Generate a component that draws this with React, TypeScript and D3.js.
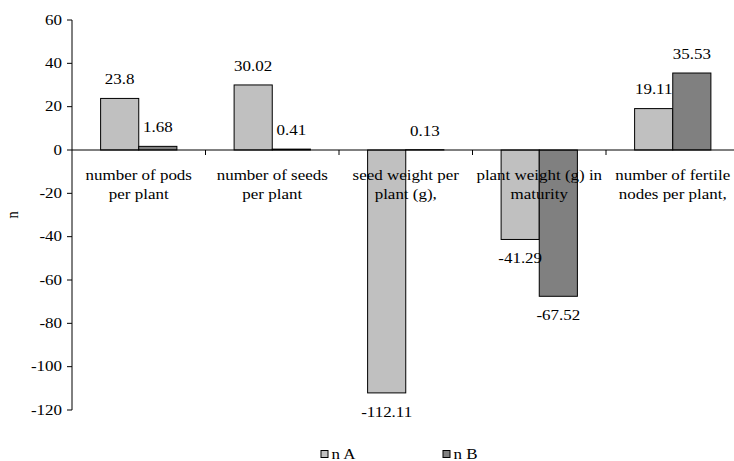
import React from "react";
import * as d3 from "d3";

const categories = [
  ["number of pods", "per plant"],
  ["number of seeds", "per plant"],
  ["seed weight per", "plant (g),"],
  ["plant weight (g) in", "maturity"],
  ["number of fertile", "nodes per plant,"],
];
const seriesNames = ["n A", "n B"];
const seriesA = [23.8, 30.02, -112.11, -41.29, 19.11];
const seriesB = [1.68, 0.41, 0.13, -67.52, 35.53];
const yTicks = [60, 40, 20, 0, -20, -40, -60, -80, -100, -120];
const colors = ["#C0C0C0", "#808080"];

const W = 734, H = 461;
const FONT = "Liberation Serif";
const FS = 14.5;
const SX = 1.17;

function T({ x, y, anchor = "middle", dy = "0", children }: any) {
  return (
    <text
      transform={`translate(${x},${y}) scale(${SX},1)`}
      textAnchor={anchor}
      dy={dy}
      fontSize={FS}
      fontFamily={FONT}
      fill="#000"
    >
      {children}
    </text>
  );
}

export default function App() {
  const y = d3.scaleLinear().domain([-120, 60]).range([410, 20]);
  const idx = categories.map((_, i) => i);
  const x = d3.scaleBand<number>().domain(idx).range([72, 739.5]).padding(0);
  const inner = d3
    .scaleBand<number>()
    .domain([0, 1])
    .range([0, x.bandwidth()])
    .paddingInner(0)
    .paddingOuter(0.75);
  const series = [seriesA, seriesB];
  const y0 = y(0);
  return (
    <svg width={W} height={H} style={{ position: "absolute", left: 0, top: 0 }}>
      <rect x={0} y={0} width={W} height={H} fill="#fff" />
      {series.map((vals, s) =>
        vals.map((v, i) => {
          const bx = (x(i) as number) + (inner(s) as number);
          const top = Math.min(y(v), y0);
          const h = Math.abs(y(v) - y0);
          return (
            <rect key={`b${s}-${i}`} x={bx} y={top} width={inner.bandwidth()} height={h}
              fill={colors[s]} stroke="#000" strokeWidth={1} />
          );
        })
      )}
      <line x1={72} x2={72} y1={y(60)} y2={y(-120)} stroke="#000" />
      {yTicks.map((t) => (
        <g key={`t${t}`}>
          <line x1={67} x2={72} y1={y(t)} y2={y(t)} stroke="#000" />
          <T x={62} y={y(t)} anchor="end" dy="0.33em">{t}</T>
        </g>
      ))}
      <text transform={`translate(18,${(y(60) + y(-120)) / 2}) rotate(-90) scale(1,${SX})`} textAnchor="middle"
        fontSize={FS} fontFamily={FONT}>n</text>
      <line x1={72} x2={739.5} y1={y0} y2={y0} stroke="#000" />
      {idx.slice(1).map((i) => (
        <line key={`xt${i}`} x1={x(i)} x2={x(i)} y1={y0} y2={y0 + 5} stroke="#000" />
      ))}
      {categories.map((lines, i) =>
        lines.map((l, k) => (
          <T key={`c${i}-${k}`} x={(x(i) as number) + x.bandwidth() / 2} y={y0 + 30 + k * 19}>{l}</T>
        ))
      )}
      {series.map((vals, s) =>
        vals.map((v, i) => {
          const cx = (x(i) as number) + (inner(s) as number) + inner.bandwidth() / 2;
          const ly = v >= 0 ? y(v) - 19 : y(v) + 19;
          return (
            <T key={`l${s}-${i}`} x={cx} y={ly} dy="0.33em">{String(v)}</T>
          );
        })
      )}
      {seriesNames.map((n, s) => (
        <g key={`lg${s}`}>
          <rect x={321 + s * 122} y={450.5} width={7} height={7} fill={colors[s]} stroke="#000" strokeWidth={1} />
          <T x={331.5 + s * 122} y={454} anchor="start" dy="0.33em">{n}</T>
        </g>
      ))}
    </svg>
  );
}
